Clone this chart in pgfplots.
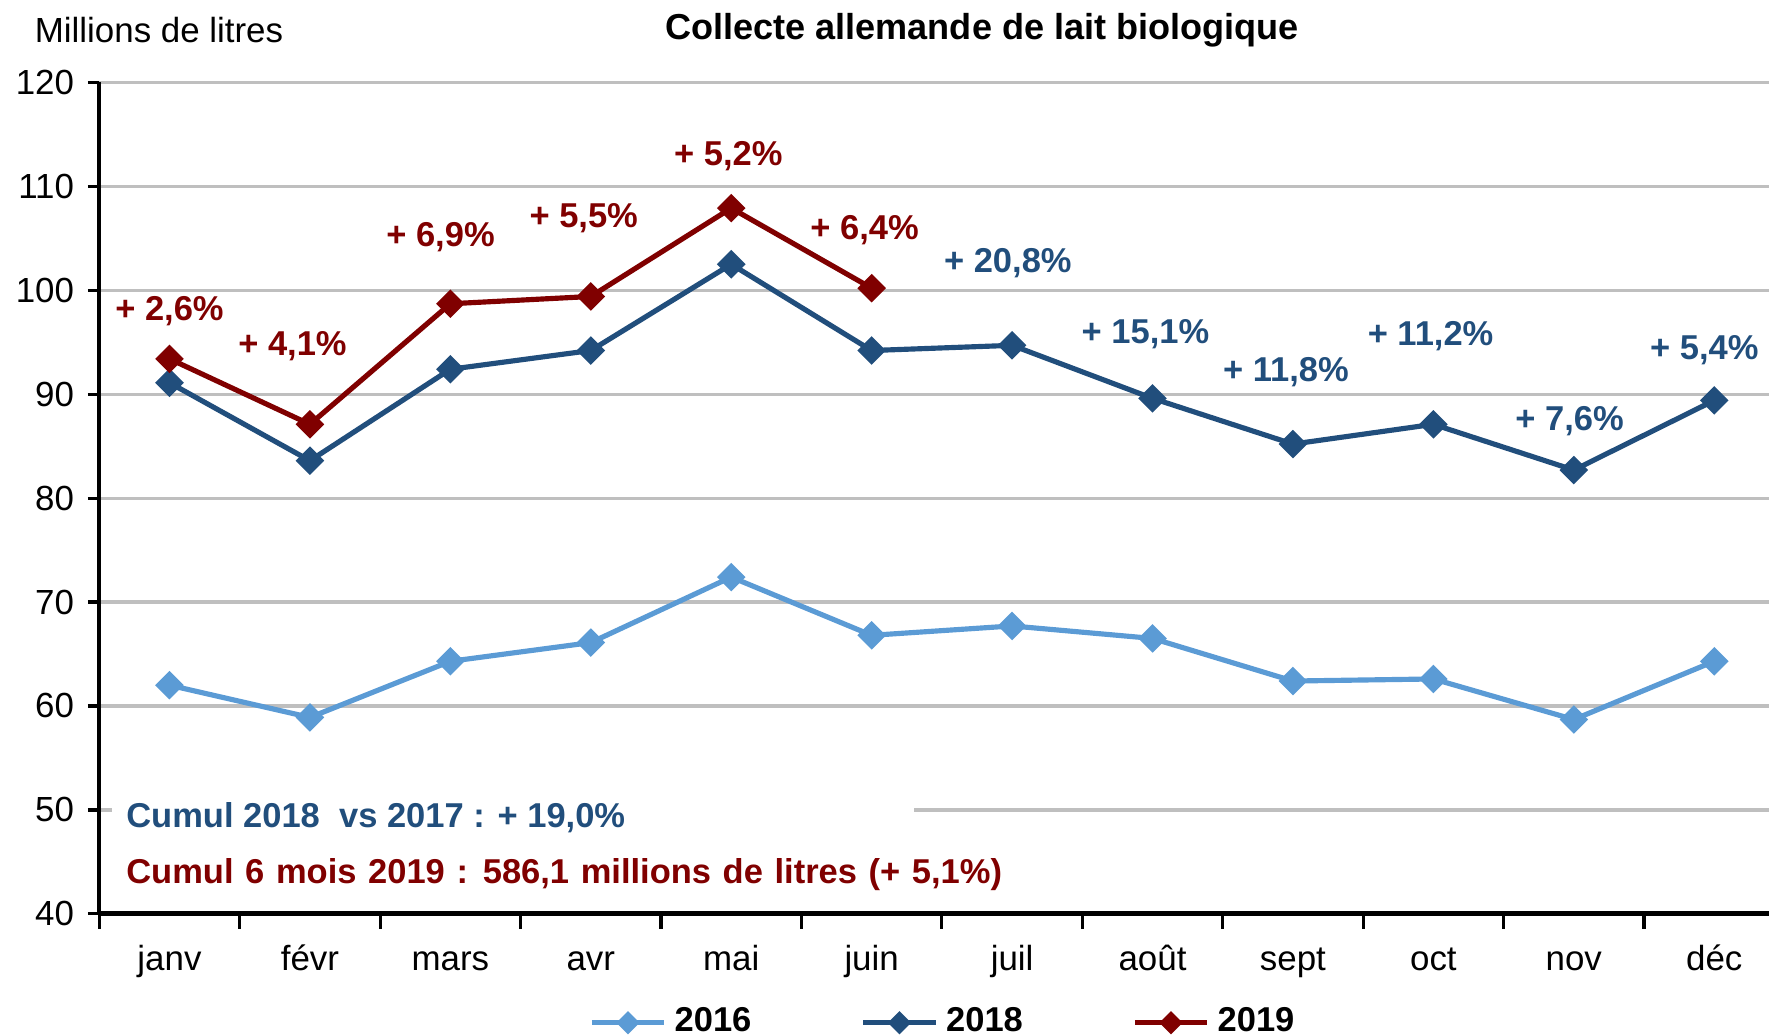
\documentclass[border=0pt]{standalone}
\usepackage{pgfplots}
\pgfplotsset{compat=1.18}
\usepackage{fontspec}
\setmainfont{Liberation Sans}
\definecolor{c16}{RGB}{91,155,213}
\definecolor{c18}{RGB}{33,78,124}
\definecolor{c19}{RGB}{128,0,0}
\newcommand{\fs}{\fontsize{8.8}{10.5}\selectfont}
\newcommand{\bfs}{\bfseries\fontsize{8.7}{10.5}\selectfont}
\begin{document}
\begin{tikzpicture}
\useasboundingbox (-8.8mm,-10.7mm) rectangle (148mm,81mm);
\begin{axis}[
  at={(0,0)}, anchor=south west,
  scale only axis, width=148mm, height=73.7mm,
  xmin=-0.5, xmax=11.39, ymin=40, ymax=120,
  axis x line=bottom, axis y line=left,
  axis line style={-},
  x axis line style={line width=1.3pt},
  y axis line style={line width=0.9pt},
  tick align=outside,
  ytick={40,50,...,120},
  ymajorgrids, grid style={draw=black!25, line width=0.8pt},
  xtick={0,...,11},
  xticklabels={janv,févr,mars,avr,mai,juin,juil,août,sept,oct,nov,déc},
  major x tick style={draw=none},
  minor xtick={-0.5,0.5,...,10.5},
  minor tick length=1.3mm,
  major tick length=1mm,
  every tick/.style={black, line width=0.8pt},
  ticklabel style={font=\fs},
  xticklabel style={text height=2.2mm, text depth=0.7mm, yshift=-0.6mm},
  /pgf/number format/assume math mode=true,
  clip=false,
  legend columns=3,
  legend style={at={(0.507,-0.131)}, anchor=center, draw=none, font=\bfs,
    /tikz/every even column/.append style={column sep=9mm},
    inner sep=0pt},
  legend image code/.code={\draw[mark repeat=2,mark phase=2,#1,mark options={rotate=45,solid,scale=0.75}] plot coordinates {(0mm,0mm) (3.2mm,0mm) (6.4mm,0mm)};},
]
\fill[white] (axis cs:-0.41,46.5) rectangle (axis cs:5.3,52.5);
\addplot[c16, line width=1.3pt, mark=square*, mark size=1.9pt, mark options={rotate=45, solid}] coordinates {
(0,62.0) (1,58.9) (2,64.3) (3,66.1) (4,72.4) (5,66.8) (6,67.7) (7,66.5) (8,62.4) (9,62.6) (10,58.7) (11,64.3)};
\addlegendentry{2016}
\addplot[c18, line width=1.3pt, mark=square*, mark size=1.9pt, mark options={rotate=45, solid}] coordinates {
(0,91.1) (1,83.6) (2,92.4) (3,94.2) (4,102.5) (5,94.2) (6,94.7) (7,89.6) (8,85.2) (9,87.1) (10,82.7) (11,89.4)};
\addlegendentry{2018}
\addplot[c19, line width=1.3pt, mark=square*, mark size=1.9pt, mark options={rotate=45, solid}] coordinates {
(0,93.4) (1,87.1) (2,98.7) (3,99.4) (4,107.9) (5,100.2)};
\addlegendentry{2019}
% annotations 2019
\node[font=\bfs, text=c19] at (axis cs:0,98.0) {+ 2,6\%};
\node[font=\bfs, text=c19] at (axis cs:0.876,94.6) {+ 4,1\%};
\node[font=\bfs, text=c19] at (axis cs:1.93,105.1) {+ 6,9\%};
\node[font=\bfs, text=c19] at (axis cs:2.95,106.9) {+ 5,5\%};
\node[font=\bfs, text=c19] at (axis cs:3.98,112.9) {+ 5,2\%};
\node[font=\bfs, text=c19] at (axis cs:4.95,105.8) {+ 6,4\%};
% annotations 2018
\node[font=\bfs, text=c18] at (axis cs:5.97,102.6) {+ 20,8\%};
\node[font=\bfs, text=c18] at (axis cs:6.95,95.8) {+ 15,1\%};
\node[font=\bfs, text=c18] at (axis cs:7.95,92.1) {+ 11,8\%};
\node[font=\bfs, text=c18] at (axis cs:8.98,95.6) {+ 11,2\%};
\node[font=\bfs, text=c18] at (axis cs:9.97,87.4) {+ 7,6\%};
\node[font=\bfs, text=c18] at (axis cs:10.93,94.2) {+ 5,4\%};
% cumul
\node[font=\bfs, text=c18, anchor=west, inner sep=0pt] at (axis cs:-0.313,49.3) {Cumul 2018\ \ vs 2017 : + 19,0\%};
\node[font=\bfs, text=c19, anchor=west, inner sep=0pt] at (axis cs:-0.313,43.8) {\spaceskip=1.03mm plus 0.1mm Cumul 6 mois 2019 : 586,1 millions de litres (+ 5,1\%)};
% titles
\node[font=\fs, anchor=west, inner sep=0pt] at (axis cs:-0.964,125.0) {Millions de litres};
\node[font=\bfseries\fontsize{9.1}{11}\selectfont, inner sep=0pt] at (axis cs:5.786,125.0) {Collecte allemande de lait biologique};
\end{axis}
\end{tikzpicture}
\end{document}
